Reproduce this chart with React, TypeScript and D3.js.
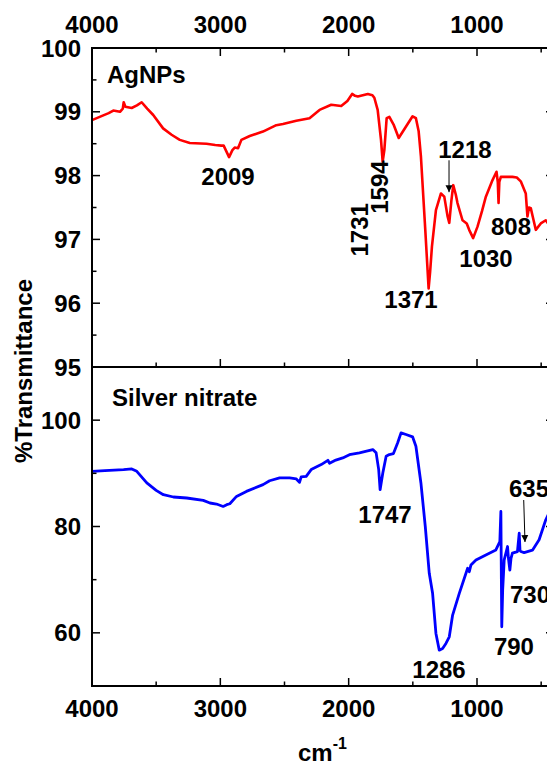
import * as d3 from 'd3';

const WIDTH = 547;
const HEIGHT = 764;
const FONT = '"Liberation Sans", Arial, sans-serif';

// [wavenumber cm-1, %T]
const agnpsSpectrum: [number, number][] = [
  [4000, 98.87], [3940, 98.92], [3870, 98.98], [3834, 99.02], [3782, 99.0], [3760, 99.05],
  [3753, 99.15], [3740, 99.08], [3691, 99.06], [3650, 99.1], [3613, 99.15], [3570, 99.05],
  [3523, 98.95], [3446, 98.74], [3380, 98.64], [3316, 98.56], [3238, 98.51], [3108, 98.5],
  [3040, 98.48], [2992, 98.47], [2974, 98.47], [2953, 98.38], [2932, 98.29], [2906, 98.4],
  [2888, 98.44], [2862, 98.43], [2836, 98.56], [2771, 98.62], [2668, 98.69], [2564, 98.79],
  [2512, 98.81], [2408, 98.86], [2305, 98.9], [2227, 99.03], [2136, 99.11], [2058, 99.09],
  [2010, 99.17], [1973, 99.28], [1950, 99.25], [1929, 99.24], [1851, 99.28], [1815, 99.26],
  [1800, 99.22], [1774, 99.03], [1748, 98.56], [1735, 98.22], [1722, 98.4], [1704, 98.9],
  [1683, 98.92], [1650, 98.8], [1610, 98.59], [1553, 98.77], [1502, 98.93], [1476, 98.9],
  [1455, 98.7], [1437, 98.3], [1403, 97.15], [1377, 96.23], [1365, 96.5], [1351, 96.89],
  [1320, 97.46], [1281, 97.72], [1255, 97.67], [1229, 97.36], [1216, 97.26], [1200, 97.6],
  [1185, 97.85], [1165, 97.7], [1152, 97.57], [1113, 97.3], [1080, 97.25], [1061, 97.15],
  [1030, 97.02], [996, 97.2], [960, 97.45], [931, 97.67], [879, 97.93], [848, 98.06],
  [838, 97.9], [832, 97.57], [826, 97.9], [814, 97.98], [724, 97.98], [690, 97.97],
  [659, 97.91], [620, 97.72], [607, 97.36], [595, 97.5], [581, 97.49], [565, 97.35],
  [542, 97.15], [503, 97.25], [464, 97.3], [430, 97.2], [400, 97.1],
];

const silverSpectrum: [number, number][] = [
  [4000, 90.38], [3900, 90.5], [3754, 90.7], [3690, 90.83], [3651, 90.38], [3573, 88.19],
  [3500, 86.8], [3444, 85.98], [3366, 85.55], [3262, 85.36], [3133, 84.91], [3081, 84.42],
  [3030, 84.23], [2978, 83.77], [2950, 84.1], [2926, 84.28], [2874, 85.66], [2797, 86.6],
  [2667, 87.87], [2616, 88.6], [2538, 89.13], [2460, 89.13], [2408, 88.94], [2383, 88.3],
  [2370, 89.32], [2331, 89.43], [2292, 90.7], [2214, 91.64], [2162, 92.45], [2149, 91.9],
  [2100, 92.5], [2046, 92.9], [1994, 93.5], [1916, 93.85], [1812, 94.47], [1786, 93.85],
  [1766, 90.7], [1755, 86.92], [1734, 90.08], [1708, 93.21], [1683, 93.53], [1651, 93.72],
  [1618, 95.74], [1592, 97.62], [1553, 97.3], [1502, 96.87], [1476, 95.1], [1437, 88.19],
  [1403, 80.0], [1372, 71.2], [1346, 67.43], [1320, 59.89], [1294, 56.74], [1268, 57.06],
  [1242, 58.0], [1216, 59.25], [1190, 63.34], [1138, 67.43], [1073, 72.15], [1060, 71.5],
  [1047, 72.77], [1008, 73.7], [931, 74.66], [853, 75.6], [822, 77.17], [814, 82.83],
  [810, 70], [807, 61.13], [800, 68], [788, 73.72], [762, 76.23], [755, 74], [744, 71.8],
  [735, 74], [724, 74.98], [685, 75.28], [671, 78.75], [665, 75.5], [659, 75.3],
  [633, 75.1], [568, 75.55], [516, 77.5], [464, 81.27], [430, 83], [400, 84],
];

const xMajorTicks = [4000, 3000, 2000, 1000];
const xMinorTicks = [3500, 2500, 1500, 500];
const topMajorTicks = [95, 96, 97, 98, 99, 100];
const topMinorTicks = [95.5, 96.5, 97.5, 98.5, 99.5];
const bottomMajorTicks = [60, 80, 100];
const bottomMinorTicks = [70, 90];

// label text, wavenumber, %T, anchor, rotated
type Note = { text: string; w: number; t: number; anchor: string; rotate?: boolean };
const topNotes: Note[] = [
  { text: 'AgNPs', w: 3883, t: 99.45, anchor: 'start' },
  { text: '2009', w: 2940, t: 97.85, anchor: 'middle' },
  { text: '1731', w: 1849, t: 97.15, anchor: 'middle', rotate: true },
  { text: '1594', w: 1693, t: 97.82, anchor: 'middle', rotate: true },
  { text: '1218', w: 1094, t: 98.28, anchor: 'middle' },
  { text: '1371', w: 1514, t: 95.92, anchor: 'middle' },
  { text: '1030', w: 930, t: 96.57, anchor: 'middle' },
  { text: '808', w: 735, t: 97.07, anchor: 'middle' },
];
const bottomNotes: Note[] = [
  { text: 'Silver nitrate', w: 3844, t: 102.66, anchor: 'start' },
  { text: '1747', w: 1717, t: 80.66, anchor: 'middle' },
  { text: '1286', w: 1296, t: 51.5, anchor: 'middle' },
  { text: '790', w: 712, t: 55.83, anchor: 'middle' },
  { text: '730', w: 743, t: 65.61, anchor: 'start' },
  { text: '635', w: 751, t: 85.55, anchor: 'start' },
];

const LEFT = 92;
const RIGHT = 554;
const TOP = 48;
const MID = 367;
const BOTTOM = 686;

export default function App() {
  const x = d3.scaleLinear().domain([4000, 400]).range([LEFT, RIGHT]);
  const yTop = d3.scaleLinear().domain([95, 100]).range([MID, TOP]);
  const yBot = d3.scaleLinear().domain([50, 110]).range([BOTTOM, MID]);

  const topLine = d3.line<[number, number]>().x(d => x(d[0])).y(d => yTop(d[1]));
  const botLine = d3.line<[number, number]>().x(d => x(d[0])).y(d => yBot(d[1]));

  const textStyle = { fontFamily: FONT, fontWeight: 'bold' as const, fontSize: 24 };

  const notes = (list: Note[], y: d3.ScaleLinear<number, number>) =>
    list.map(n => {
      const px = x(n.w);
      const py = y(n.t);
      return (
        <text key={n.text} x={px} y={py} textAnchor={n.anchor} style={textStyle}
          transform={n.rotate ? `rotate(-90 ${px} ${py})` : undefined}>
          {n.text}
        </text>
      );
    });

  const yTicks = (major: number[], minor: number[], y: d3.ScaleLinear<number, number>, labels: boolean) => (
    <g>
      {major.map(v => (
        <g key={'M' + v}>
          <line x1={LEFT} x2={LEFT + 8} y1={y(v)} y2={y(v)} stroke="#000" strokeWidth={1.5} />
          <line x1={RIGHT} x2={RIGHT - 8} y1={y(v)} y2={y(v)} stroke="#000" strokeWidth={1.5} />
          {labels && (
            <text x={LEFT - 11} y={y(v)} dy="0.36em" textAnchor="end" style={textStyle}>{v}</text>
          )}
        </g>
      ))}
      {minor.map(v => (
        <g key={'m' + v}>
          <line x1={LEFT} x2={LEFT + 4.5} y1={y(v)} y2={y(v)} stroke="#000" strokeWidth={1.5} />
          <line x1={RIGHT} x2={RIGHT - 4.5} y1={y(v)} y2={y(v)} stroke="#000" strokeWidth={1.5} />
        </g>
      ))}
    </g>
  );

  const xTicks = (yLine: number, dir: number) => (
    <g>
      {xMajorTicks.map(v => (
        <line key={'M' + v} x1={x(v)} x2={x(v)} y1={yLine} y2={yLine + dir * 8} stroke="#000" strokeWidth={1.5} />
      ))}
      {xMinorTicks.map(v => (
        <line key={'m' + v} x1={x(v)} x2={x(v)} y1={yLine} y2={yLine + dir * 4.5} stroke="#000" strokeWidth={1.5} />
      ))}
    </g>
  );

  const arrow = (w: number, t1: number, t2: number, w2: number, y: d3.ScaleLinear<number, number>) => (
    <line x1={x(w)} y1={y(t1)} x2={x(w2)} y2={y(t2)} stroke="#000" strokeWidth={1} markerEnd="url(#arrowHead)" />
  );

  return (
    <svg width={WIDTH} height={HEIGHT} style={{ position: 'absolute', left: 0, top: 0, background: '#fff' }}>
      <defs>
        <marker id="arrowHead" viewBox="0 0 10 10" refX="10" refY="5" markerWidth="7" markerHeight="9"
          orient="auto" markerUnits="userSpaceOnUse">
          <path d="M0,0 L10,5 L0,10 Z" fill="#000" />
        </marker>
      </defs>

      {/* curves */}
      <path d={topLine(agnpsSpectrum) ?? ''} fill="none" stroke="#ff0000" strokeWidth={2.6} strokeLinejoin="round" />
      <path d={botLine(silverSpectrum) ?? ''} fill="none" stroke="#0000ff" strokeWidth={2.8} strokeLinejoin="round" />

      {/* frames */}
      <rect x={LEFT} y={TOP} width={RIGHT - LEFT} height={MID - TOP} fill="none" stroke="#000" strokeWidth={2} />
      <rect x={LEFT} y={MID} width={RIGHT - LEFT} height={BOTTOM - MID} fill="none" stroke="#000" strokeWidth={2} />

      {xTicks(TOP, 1)}
      {xTicks(MID, -1)}
      {xTicks(BOTTOM, -1)}
      {yTicks(topMajorTicks, topMinorTicks, yTop, true)}
      {yTicks(bottomMajorTicks, bottomMinorTicks, yBot, true)}

      {xMajorTicks.map(v => (
        <text key={'tt' + v} x={x(v)} y={33} textAnchor="middle" style={textStyle}>{v}</text>
      ))}
      {xMajorTicks.map(v => (
        <text key={'bt' + v} x={x(v)} y={717} textAnchor="middle" style={textStyle}>{v}</text>
      ))}

      {notes(topNotes, yTop)}
      {notes(bottomNotes, yBot)}
      {arrow(1218, 98.24, 97.74, 1218, yTop)}
      {arrow(636, 84.98, 77.08, 626, yBot)}

      <text x={32} y={371} textAnchor="middle" transform="rotate(-90 32 371)" style={textStyle}>%Transmittance</text>
      <text x={298} y={761} style={textStyle}>
        cm<tspan dy={-12} style={{ fontSize: 16 }}>-1</tspan>
      </text>
    </svg>
  );
}
